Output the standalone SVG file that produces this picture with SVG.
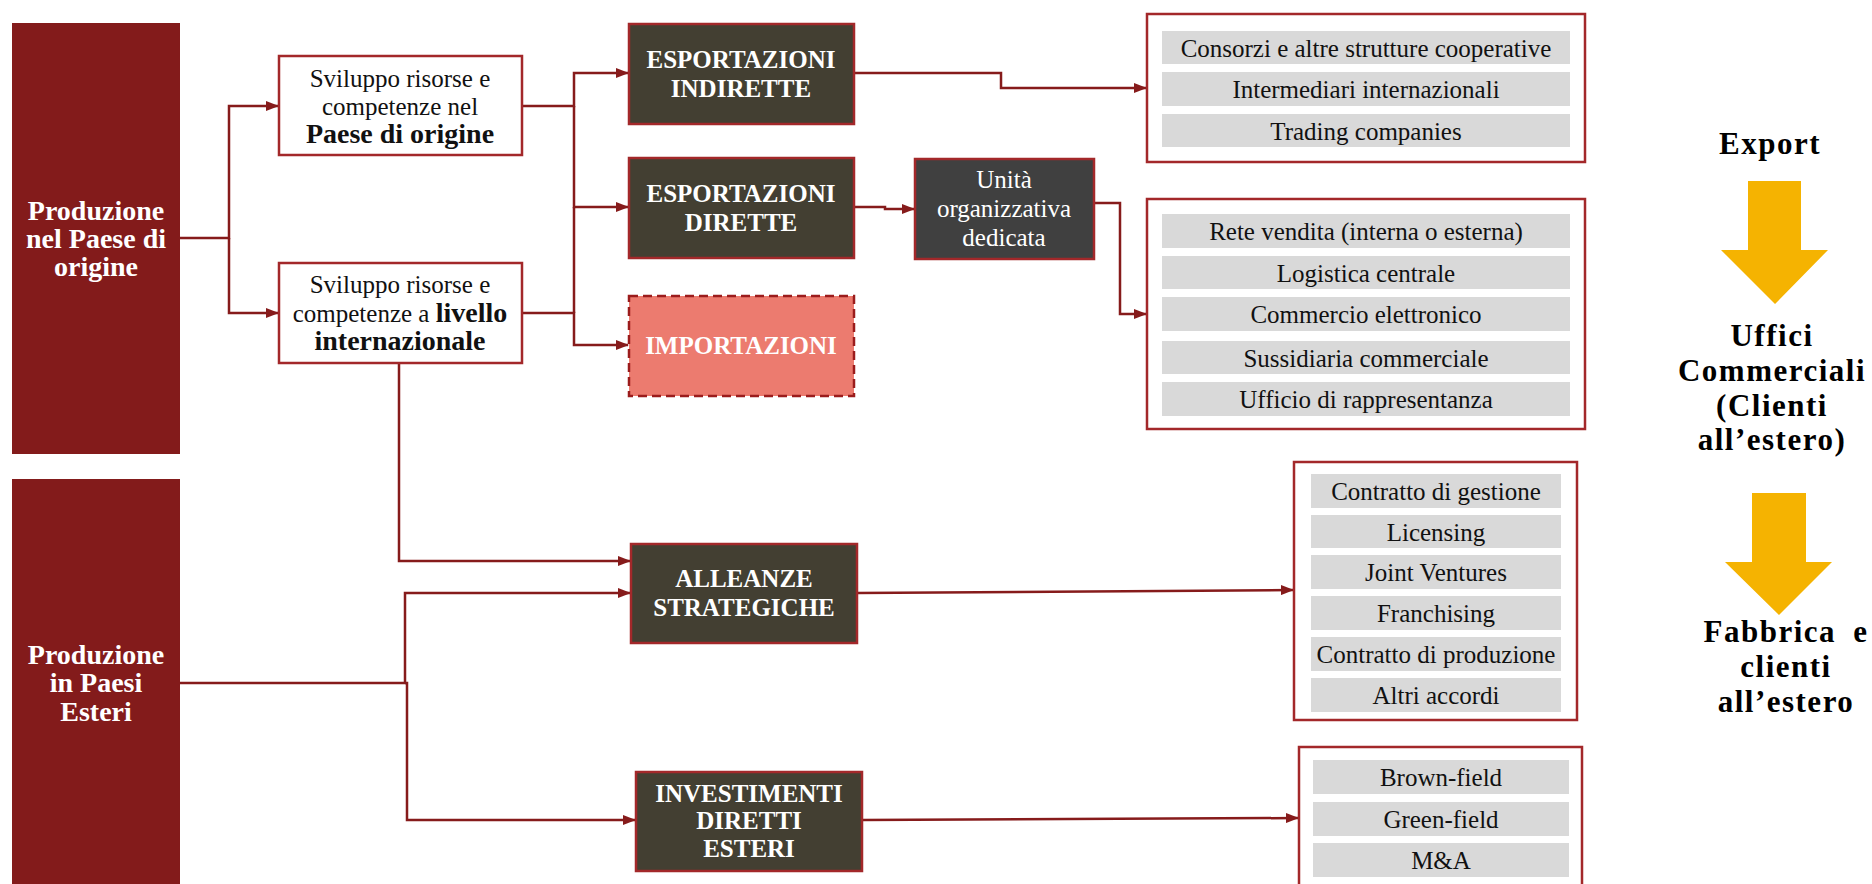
<svg xmlns="http://www.w3.org/2000/svg" width="1872" height="884" viewBox="0 0 1872 884">
<defs>
<marker id="ah" viewBox="0 0 13 10" markerWidth="13" markerHeight="10" refX="12" refY="5" orient="auto" markerUnits="userSpaceOnUse">
<path d="M0,0 L13,5 L0,10 z" fill="#861B1B"/>
</marker>
<style>
.conn{fill:none;stroke:#861B1B;stroke-width:2.5}
.arr{marker-end:url(#ah)}
.side{fill:#831B1B}
.wbox{fill:#FFFFFF;stroke:#A3282A;stroke-width:2.5}
.dbox{fill:#433F32;stroke:#A3282A;stroke-width:2.5}
.gbox{fill:#404040;stroke:#A3282A;stroke-width:2.5}
.ibox{fill:#EC7B6F;stroke:#9B1C1C;stroke-width:2.5;stroke-dasharray:9 5}
.row{fill:#D9D9D9}
.t{font-family:"Liberation Serif","Times New Roman",serif;text-anchor:middle;fill:#111111}
.r{font-size:25px}
.b{font-weight:bold}
.hd{font-size:25px;font-weight:bold;fill:#FFFFFF}
.sd{font-size:28px;font-weight:bold;fill:#FFFFFF}
.w{fill:#FFFFFF}
.big{font-size:31px;font-weight:bold;fill:#000000;letter-spacing:1.5px}
.yarrow{fill:#F5B301}
</style>
</defs>

<g id="connectors">
<path class="conn arr" d="M180,238 H229 V106 H278"/>
<path class="conn arr" d="M229,238 V313 H278"/>
<path class="conn arr" d="M522,106 H574 V73 H628"/>
<path class="conn arr" d="M574,106 V207 H628"/>
<path class="conn" d="M574,207 V313"/>
<path class="conn arr" d="M522,313 H574 V345 H628"/>
<path class="conn arr" d="M854,73 H1001 V88 H1146"/>
<path class="conn arr" d="M854,207 H885 V209 H914"/>
<path class="conn arr" d="M1094,203 H1120 V314 H1146"/>
<path class="conn arr" d="M399,363 V561 H630"/>
<path class="conn arr" d="M180,683 H405 V593 H630"/>
<path class="conn arr" d="M405,683 H407 V820 H635"/>
<path class="conn arr" d="M857,593 L1293,590"/>
<path class="conn arr" d="M862,820 L1298,818"/>
</g>

<g id="prod-origine">
<rect class="side" x="12" y="23" width="168" height="431"/>
<text class="t sd" x="96" y="220">Produzione</text>
<text class="t sd" x="96" y="248">nel Paese di</text>
<text class="t sd" x="96" y="276">origine</text>
</g>

<g id="prod-esteri">
<rect class="side" x="12" y="479" width="168" height="410"/>
<text class="t sd" x="96" y="664">Produzione</text>
<text class="t sd" x="96" y="692">in Paesi</text>
<text class="t sd" x="96" y="721">Esteri</text>
</g>

<g id="sviluppo-origine">
<rect class="wbox" x="279" y="56" width="243" height="99"/>
<text class="t r" x="400" y="87">Sviluppo risorse e</text>
<text class="t r" x="400" y="115">competenze nel</text>
<text class="t b" x="400" y="143" font-size="28">Paese di origine</text>
</g>

<g id="sviluppo-internazionale">
<rect class="wbox" x="279" y="263" width="243" height="100"/>
<text class="t r" x="400" y="293">Sviluppo risorse e</text>
<text class="t r" x="400" y="322">competenze a <tspan class="b" font-size="28">livello</tspan></text>
<text class="t b" x="400" y="350" font-size="28">internazionale</text>
</g>

<g id="esportazioni-indirette">
<rect class="dbox" x="629" y="24" width="225" height="100"/>
<text class="t hd" x="741" y="68">ESPORTAZIONI</text>
<text class="t hd" x="741" y="97">INDIRETTE</text>
</g>

<g id="esportazioni-dirette">
<rect class="dbox" x="629" y="158" width="225" height="100"/>
<text class="t hd" x="741" y="202">ESPORTAZIONI</text>
<text class="t hd" x="741" y="231">DIRETTE</text>
</g>

<g id="importazioni">
<rect class="ibox" x="629" y="296" width="225" height="100"/>
<text class="t hd" x="741" y="354">IMPORTAZIONI</text>
</g>

<g id="unita-organizzativa">
<rect class="gbox" x="915" y="159" width="179" height="100"/>
<text class="t r w" x="1004" y="188">Unità</text>
<text class="t r w" x="1004" y="217">organizzativa</text>
<text class="t r w" x="1004" y="246">dedicata</text>
</g>

<g id="alleanze-strategiche">
<rect class="dbox" x="631" y="544" width="226" height="99"/>
<text class="t hd" x="744" y="587">ALLEANZE</text>
<text class="t hd" x="744" y="616">STRATEGICHE</text>
</g>

<g id="investimenti-diretti-esteri">
<rect class="dbox" x="636" y="772" width="226" height="99"/>
<text class="t hd" x="749" y="802">INVESTIMENTI</text>
<text class="t hd" x="749" y="829">DIRETTI</text>
<text class="t hd" x="749" y="857">ESTERI</text>
</g>

<g id="lista-indirette">
<rect class="wbox" x="1147" y="14" width="438" height="148"/>
<rect class="row" x="1162" y="31" width="408" height="33"/>
<rect class="row" x="1162" y="72" width="408" height="34"/>
<rect class="row" x="1162" y="114" width="408" height="33"/>
<text class="t r" x="1366" y="57">Consorzi e altre strutture cooperative</text>
<text class="t r" x="1366" y="98">Intermediari internazionali</text>
<text class="t r" x="1366" y="140">Trading companies</text>
</g>

<g id="lista-dirette">
<rect class="wbox" x="1147" y="199" width="438" height="230"/>
<rect class="row" x="1162" y="214" width="408" height="34"/>
<rect class="row" x="1162" y="256" width="408" height="33"/>
<rect class="row" x="1162" y="297" width="408" height="34"/>
<rect class="row" x="1162" y="341" width="408" height="33"/>
<rect class="row" x="1162" y="382" width="408" height="34"/>
<text class="t r" x="1366" y="240">Rete vendita (interna o esterna)</text>
<text class="t r" x="1366" y="282">Logistica centrale</text>
<text class="t r" x="1366" y="323">Commercio elettronico</text>
<text class="t r" x="1366" y="367">Sussidiaria commerciale</text>
<text class="t r" x="1366" y="408">Ufficio di rappresentanza</text>
</g>

<g id="lista-alleanze">
<rect class="wbox" x="1294" y="462" width="283" height="258"/>
<rect class="row" x="1311" y="474" width="250" height="34"/>
<rect class="row" x="1311" y="515" width="250" height="33"/>
<rect class="row" x="1311" y="555" width="250" height="34"/>
<rect class="row" x="1311" y="596" width="250" height="34"/>
<rect class="row" x="1311" y="637" width="250" height="34"/>
<rect class="row" x="1311" y="678" width="250" height="34"/>
<text class="t r" x="1436" y="500">Contratto di gestione</text>
<text class="t r" x="1436" y="541">Licensing</text>
<text class="t r" x="1436" y="581">Joint Ventures</text>
<text class="t r" x="1436" y="622">Franchising</text>
<text class="t r" x="1436" y="663">Contratto di produzione</text>
<text class="t r" x="1436" y="704">Altri accordi</text>
</g>

<g id="lista-investimenti">
<rect class="wbox" x="1299" y="747" width="283" height="150"/>
<rect class="row" x="1313" y="760" width="256" height="34"/>
<rect class="row" x="1313" y="802" width="256" height="34"/>
<rect class="row" x="1313" y="843" width="256" height="34"/>
<text class="t r" x="1441" y="786">Brown-field</text>
<text class="t r" x="1441" y="828">Green-field</text>
<text class="t r" x="1441" y="869">M&amp;A</text>
</g>

<g id="legenda-export">
<text class="t big" x="1770" y="154">Export</text>
<polygon class="yarrow" points="1748,181 1801,181 1801,250 1828,250 1775,304 1721,250 1748,250"/>
<text class="t big" x="1772" y="346">Uffici</text>
<text class="t big" x="1772" y="381">Commerciali</text>
<text class="t big" x="1772" y="415.5">(Clienti</text>
<text class="t big" x="1772" y="450">all’estero)</text>
</g>

<g id="legenda-fabbrica">
<polygon class="yarrow" points="1752,493 1806,493 1806,562 1832,562 1779,615 1725,562 1752,562"/>
<text class="t big" x="1786" y="642" word-spacing="8">Fabbrica e</text>
<text class="t big" x="1786" y="677">clienti</text>
<text class="t big" x="1786" y="712">all’estero</text>
</g>
</svg>
